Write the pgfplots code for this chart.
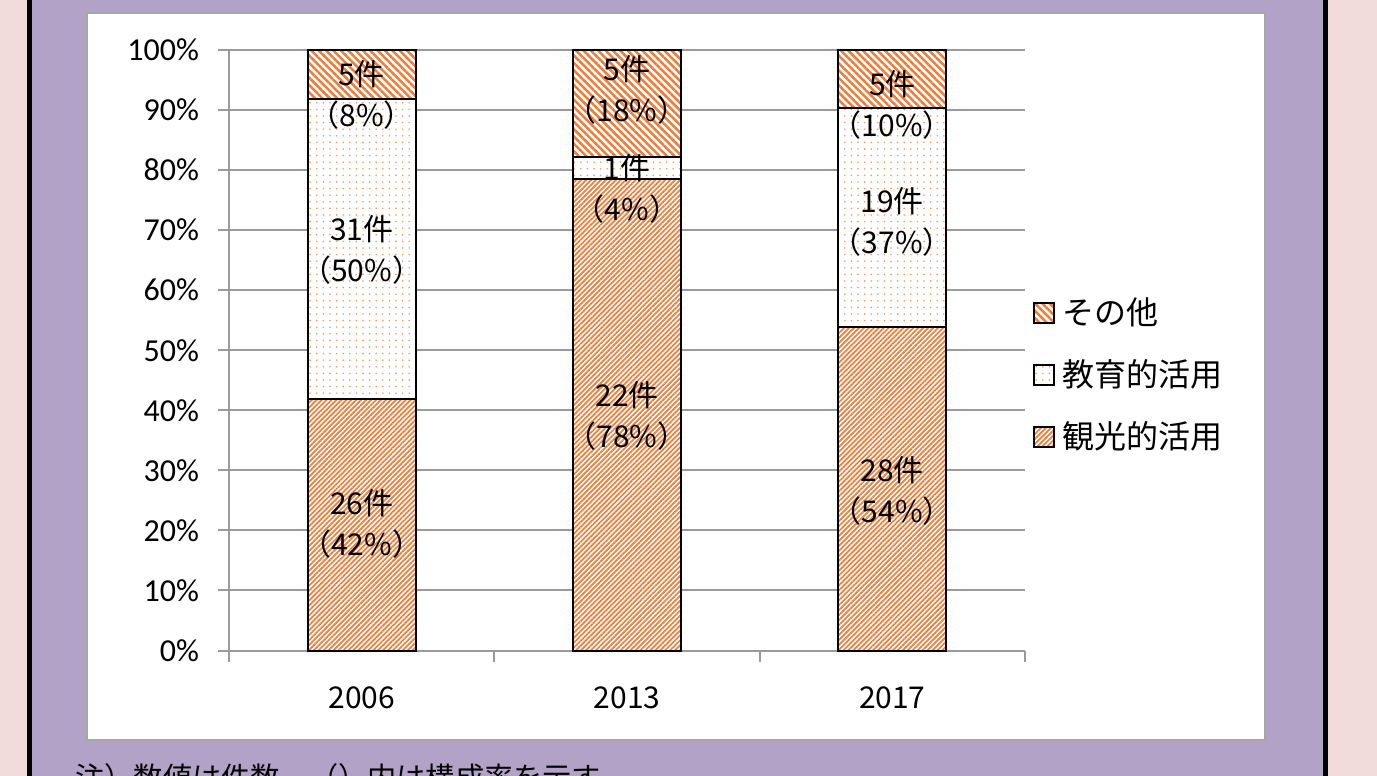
\documentclass[border=0pt]{standalone}
\usepackage{fontspec}
\setmainfont{Noto Sans CJK JP}
\newfontfamily\calibri{Carlito}
\usepackage{pgfplots}
\pgfplotsset{compat=1.18}
\usetikzlibrary{patterns.meta}
\definecolor{pinkbg}{HTML}{F2DCDB}
\definecolor{purplebg}{HTML}{B3A2C7}
\definecolor{orng}{HTML}{F07C38}
\definecolor{dotc}{HTML}{F29a60}
\definecolor{gridc}{HTML}{9A9A9A}
\pgfplotsset{mylegend/.style={legend image code/.code={\draw[##1,draw=black,line width=0.9bp] (0bp,-5bp) rectangle (10bp,5bp);}}}
\tikzset{lbl/.style={align=center, text=black, font=\fontsize{15bp}{20.5bp}\selectfont, inner sep=0pt}}
\begin{document}
\begin{tikzpicture}
\useasboundingbox (0,0) rectangle (688.5bp,388bp);
\clip (0,0) rectangle (688.5bp,388bp);
\fill[pinkbg] (0,0) rectangle (688.5bp,388bp);
\fill[purplebg] (14.75bp,0) rectangle (662.75bp,388bp);
\draw[black,line width=2.5bp] (14.75bp,0) -- (14.75bp,388bp);
\draw[black,line width=2.5bp] (662.75bp,0) -- (662.75bp,388bp);
\draw[fill=white,draw=gray!70,line width=1.2bp] (43.5bp,18bp) rectangle (632.5bp,381.5bp);
\node[anchor=base west,inner sep=0,font=\fontsize{14.6bp}{18bp}\selectfont] at (37.5bp,-6bp) {注）数値は件数、（）内は構成率を示す};
\begin{axis}[
  at={(114.5bp,62.75bp)}, anchor=south west,
  scale only axis, width=398bp, height=300.25bp,
  xmin=-0.5, xmax=2.5, ymin=0, ymax=100,
  clip=false,
  ybar stacked, bar width=54bp,
  reverse stacked plots=false,
  axis x line*=bottom, axis y line*=left,
  axis line style={draw=gridc, line width=1bp, -},
  ytick={0,10,...,100},
  yticklabels={0\%,10\%,20\%,30\%,40\%,50\%,60\%,70\%,80\%,90\%,100\%},
  yticklabel style={font=\calibri\fontsize{16bp}{18bp}\selectfont, xshift=-6bp},
  ymajorgrids, grid style={draw=gridc,line width=1bp},
  tick style={draw=gridc,line width=1bp},
  tick align=outside,
  major tick length=5.5bp,
  xtick={-0.5,0.5,1.5,2.5}, xticklabels={},
  extra x ticks={0,1,2},
  extra x tick labels={2006,2013,2017},
  extra x tick style={major tick length=0bp, xticklabel style={font=\fontsize{15bp}{18bp}\selectfont, yshift=-14.5bp}},
  reverse legend,
  legend cell align=left,
  legend style={draw=none, fill=none, at={(1.01,0.459)}, anchor=west,
    font=\fontsize{16bp}{19bp}\selectfont, row sep=12bp, inner sep=0pt,
    nodes={inner xsep=3.5bp}},
]
\addplot[draw=black, line width=1bp, preaction={fill=white},
  pattern={Lines[angle=45,distance=1.75bp,line width=0.85bp]}, pattern color=orng, mylegend]
  coordinates {(0,41.9) (1,78.6) (2,53.8)};
\addlegendentry{観光的活用}
\addplot[draw=black, line width=1bp, preaction={fill=white},
  pattern={Dots[distance=3.3bp,radius=0.45bp]}, pattern color=dotc, mylegend]
  coordinates {(0,50.0) (1,3.5) (2,36.6)};
\addlegendentry{教育的活用}
\addplot[draw=black, line width=1bp, preaction={fill=white},
  pattern={Lines[angle=-45,distance=2.6bp,line width=1.25bp]}, pattern color=orng, mylegend]
  coordinates {(0,8.1) (1,17.9) (2,9.6)};
\addlegendentry{その他}
\node[lbl] at (axis cs:0,21.0) {26件\\（42\%）};
\node[lbl] at (axis cs:0,66.7) {31件\\（50\%）};
\node[lbl] at (axis cs:0,92.6) {5件\\（8\%）};
\node[lbl] at (axis cs:1,39.1) {22件\\（78\%）};
\node[lbl] at (axis cs:1,76.8) {1件\\（4\%）};
\node[lbl] at (axis cs:1,93.3) {5件\\（18\%）};
\node[lbl] at (axis cs:2,90.8) {5件\\（10\%）};
\node[lbl] at (axis cs:2,71.4) {19件\\（37\%）};
\node[lbl] at (axis cs:2,26.6) {28件\\（54\%）};
\end{axis}
\end{tikzpicture}
\end{document}
